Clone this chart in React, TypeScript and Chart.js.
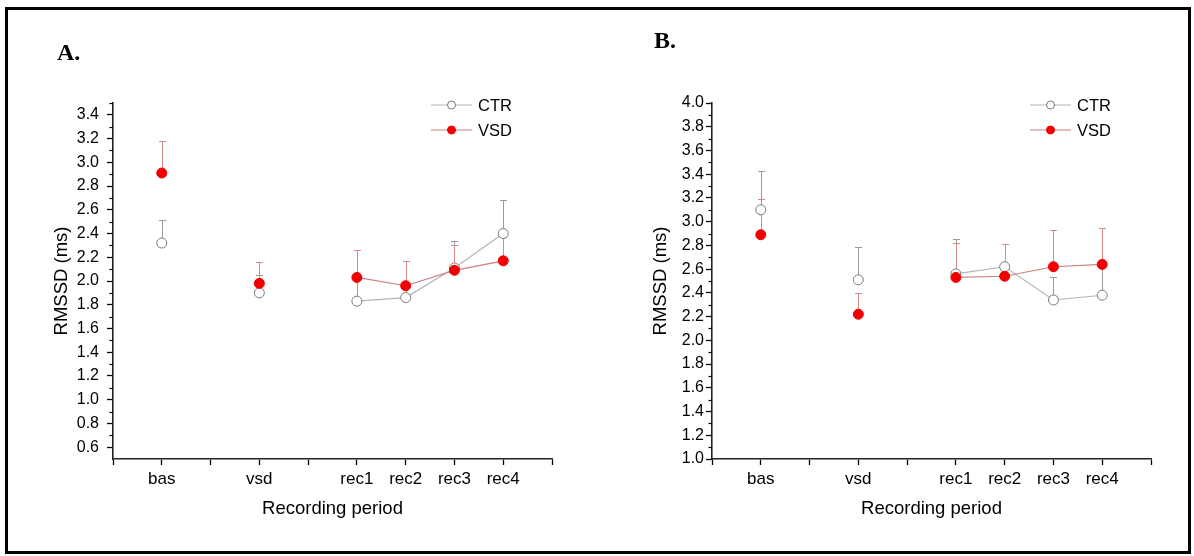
import React, { useEffect, useRef } from 'react';
import { Chart, registerables } from 'chart.js';

Chart.register(...registerables);

// ---------- data ----------
const categories = ['bas', 'vsd', 'rec1', 'rec2', 'rec3', 'rec4'];
const categoryPositions = [1, 3, 5, 6, 7, 8];
const xTickValues = [0, 1, 2, 3, 4, 5, 6, 7, 8, 9];

const seriesNames = ['CTR', 'VSD'];

const aCtrMean = [2.32, 1.9, 1.83, 1.86, 2.11, 2.4];
const aCtrErr = [0.19, 0.15, 0.19, 0.1, 0.23, 0.28];
const aVsdMean = [2.91, 1.98, 2.03, 1.96, 2.09, 2.17];
const aVsdErr = [0.27, 0.18, 0.23, 0.21, 0.21, 0.2];
const aYTickLabels = ['0.6', '0.8', '1.0', '1.2', '1.4', '1.6', '1.8', '2.0', '2.2', '2.4', '2.6', '2.8', '3.0', '3.2', '3.4'];

const bCtrMean = [3.1, 2.51, 2.56, 2.62, 2.34, 2.38];
const bCtrErr = [0.33, 0.28, 0.29, 0.19, 0.19, 0.24];
const bVsdMean = [2.89, 2.22, 2.53, 2.54, 2.62, 2.64];
const bVsdErr = [0.3, 0.18, 0.29, 0.27, 0.31, 0.31];
const bYTickLabels = ['1.0', '1.2', '1.4', '1.6', '1.8', '2.0', '2.2', '2.4', '2.6', '2.8', '3.0', '3.2', '3.4', '3.6', '3.8', '4.0'];

const yAxisTitle = 'RMSSD (ms)';
const xAxisTitle = 'Recording period';

// ---------- styles ----------
const FONT = "'Liberation Sans', Arial, Helvetica, sans-serif";
const CTR_LINE = '#b4b4b4';
const CTR_POINT = '#7a7a7a';
const CTR_ERR = '#9a9a9a';
const VSD_LINE = '#c98080';
const VSD_POINT = '#f00000';
const VSD_ERR = '#d88a8a';

type PanelProps = {
  ctrMean: number[];
  ctrErr: number[];
  vsdMean: number[];
  vsdErr: number[];
  yTickLabels: string[];
  yMin: number;
  yMax: number;
  left: number;
  width: number;
  tickPadding: number;
};

function makeDecorPlugin(errors: number[][], errColors: string[]) {
  return {
    id: 'decor',
    beforeDatasetsDraw(chart: any) {
      const { ctx } = chart;
      const xs = chart.scales.x;
      const ys = chart.scales.y;
      errors.forEach((errArr, di) => {
        const ds = chart.data.datasets[di];
        ctx.save();
        ctx.strokeStyle = errColors[di];
        ctx.lineWidth = 1;
        ds.data.forEach((pt: any, i: number) => {
          const px = Math.round(xs.getPixelForValue(pt.x)) + 0.5;
          const py0 = ys.getPixelForValue(pt.y);
          const py1 = Math.round(ys.getPixelForValue(pt.y + errArr[i])) + 0.5;
          ctx.beginPath();
          ctx.moveTo(px, py0);
          ctx.lineTo(px, py1);
          ctx.moveTo(px - 3.5, py1);
          ctx.lineTo(px + 3.5, py1);
          ctx.stroke();
        });
        ctx.restore();
      });
    },
    afterDraw(chart: any) {
      const { ctx, chartArea } = chart;
      const ys = chart.scales.y;
      // minor ticks on y axis
      ctx.save();
      ctx.strokeStyle = '#000';
      ctx.lineWidth = 1.2;
      const majors = ys.ticks.map((t: any) => t.value);
      const minors: number[] = [];
      for (let i = 0; i < majors.length - 1; i++) minors.push((majors[i] + majors[i + 1]) / 2);
      const step = majors[1] - majors[0];
      if (majors[majors.length - 1] + step / 2 <= ys.max + 1e-9) minors.push(majors[majors.length - 1] + step / 2);
      if (majors[0] - step / 2 > ys.min + 1e-9) minors.push(majors[0] - step / 2);
      minors.forEach((v) => {
        const py = Math.round(ys.getPixelForValue(v)) + 0.5;
        ctx.beginPath();
        ctx.moveTo(chartArea.left, py);
        ctx.lineTo(chartArea.left - 3.5, py);
        ctx.stroke();
      });
      ctx.restore();

      // legend
      const x0 = chartArea.left + 318;
      const entries = [
        { y: chartArea.top + 2, line: CTR_LINE, fill: '#ffffff', stroke: CTR_POINT },
        { y: chartArea.top + 27, line: VSD_LINE, fill: VSD_POINT, stroke: VSD_POINT },
      ];
      entries.forEach((e, i) => {
        ctx.save();
        ctx.strokeStyle = e.line;
        ctx.lineWidth = 1.2;
        ctx.beginPath();
        ctx.moveTo(x0, e.y);
        ctx.lineTo(x0 + 41, e.y);
        ctx.stroke();
        ctx.beginPath();
        ctx.arc(x0 + 20.5, e.y, 4, 0, Math.PI * 2);
        ctx.fillStyle = e.fill;
        ctx.fill();
        ctx.strokeStyle = e.stroke;
        ctx.lineWidth = 1;
        ctx.stroke();
        ctx.fillStyle = '#000';
        ctx.font = `16.5px ${FONT}`;
        ctx.textBaseline = 'middle';
        ctx.textAlign = 'left';
        ctx.fillText(seriesNames[i], x0 + 47, e.y + 1);
        ctx.restore();
      });
    },
  };
}

function Panel(props: PanelProps) {
  const ref = useRef<HTMLCanvasElement | null>(null);
  useEffect(() => {
    if (!ref.current) return;
    const yTickValues = props.yTickLabels.map(Number);
    const ctrData = categoryPositions.map((x, i) => ({ x, y: props.ctrMean[i] }));
    const vsdData = categoryPositions.map((x, i) => ({ x, y: props.vsdMean[i] }));
    const chart = new Chart(ref.current, {
      type: 'line',
      data: {
        datasets: [
          {
            label: seriesNames[0],
            data: ctrData,
            order: 1,
            borderColor: CTR_LINE,
            borderWidth: 1.2,
            pointRadius: 5,
            pointBackgroundColor: '#ffffff',
            pointBorderColor: CTR_POINT,
            pointBorderWidth: 1,
            tension: 0,
            fill: false,
            segment: {
              borderColor: (c: any) => (c.p0DataIndex >= 2 ? CTR_LINE : 'rgba(0,0,0,0)'),
            },
          },
          {
            label: seriesNames[1],
            data: vsdData,
            order: 0,
            borderColor: VSD_LINE,
            borderWidth: 1.2,
            pointRadius: 5,
            pointBackgroundColor: VSD_POINT,
            pointBorderColor: VSD_POINT,
            pointBorderWidth: 1,
            tension: 0,
            fill: false,
            segment: {
              borderColor: (c: any) => (c.p0DataIndex >= 2 ? VSD_LINE : 'rgba(0,0,0,0)'),
            },
          },
        ],
      },
      options: {
        animation: false,
        responsive: false,
        events: [],
        layout: { padding: { left: 0, top: 103, right: props.width - 552, bottom: 0 } },
        plugins: {
          legend: { display: false },
          tooltip: { enabled: false },
          title: { display: false },
        },
        scales: {
          x: {
            type: 'linear',
            min: 0,
            max: 9,
            afterBuildTicks: (s: any) => {
              s.ticks = xTickValues.map((v) => ({ value: v }));
            },
            afterFit: (s: any) => {
              s.height = 97;
            },
            ticks: {
              autoSkip: false,
              maxRotation: 0,
              minRotation: 0,
              padding: 4,
              color: '#000',
              font: { family: FONT, size: 17 },
              callback: (v: any) => {
                const i = categoryPositions.indexOf(Number(v));
                return i >= 0 ? categories[i] : '';
              },
            },
            grid: { drawOnChartArea: false, drawTicks: true, tickLength: 6, tickColor: '#000', tickWidth: 1.3 },
            border: { display: true, color: '#222', width: 1.6 },
            title: {
              display: true,
              text: xAxisTitle,
              color: '#000',
              font: { family: FONT, size: 18.5 },
              padding: { top: 0, bottom: 36 },
            },
          },
          y: {
            type: 'linear',
            min: props.yMin,
            max: props.yMax,
            afterBuildTicks: (s: any) => {
              s.ticks = yTickValues.map((v) => ({ value: v }));
            },
            afterFit: (s: any) => {
              s.width = 113;
            },
            ticks: {
              autoSkip: false,
              padding: props.tickPadding,
              color: '#000',
              font: { family: FONT, size: 16 },
              callback: (_v: any, idx: number) => props.yTickLabels[idx],
            },
            grid: { drawOnChartArea: false, drawTicks: true, tickLength: 6, tickColor: '#000', tickWidth: 1.3 },
            border: { display: true, color: '#222', width: 1.6 },
            title: {
              display: true,
              text: yAxisTitle,
              color: '#000',
              font: { family: FONT, size: 18.5 },
              padding: { top: 51, bottom: 0 },
            },
          },
        },
      } as any,
      plugins: [makeDecorPlugin([props.ctrErr, props.vsdErr], [CTR_ERR, VSD_ERR])],
    });
    return () => chart.destroy();
  }, []);
  return (
    <canvas
      ref={ref}
      width={props.width}
      height={556}
      style={{ position: 'absolute', left: props.left, top: 0, width: props.width, height: 556 }}
    />
  );
}

export default function App() {
  const labelStyle: React.CSSProperties = {
    position: 'absolute',
    fontFamily: "'Liberation Serif', 'Times New Roman', serif",
    fontWeight: 'bold',
    fontSize: 24,
    lineHeight: '24px',
    color: '#000',
    margin: 0,
  };
  return (
    <div
      style={{
        position: 'fixed',
        left: 0,
        top: 0,
        width: 1194,
        height: 556,
        background: '#ffffff',
        overflow: 'hidden',
      }}
    >
      <Panel
        ctrMean={aCtrMean}
        ctrErr={aCtrErr}
        vsdMean={aVsdMean}
        vsdErr={aVsdErr}
        yTickLabels={aYTickLabels}
        yMin={0.5}
        yMax={3.5}
        left={0}
        width={597}
        tickPadding={8}
      />
      <Panel
        ctrMean={bCtrMean}
        ctrErr={bCtrErr}
        vsdMean={bVsdMean}
        vsdErr={bVsdErr}
        yTickLabels={bYTickLabels}
        yMin={1.0}
        yMax={4.0}
        left={599}
        width={595}
        tickPadding={2}
      />
      <div style={{ ...labelStyle, left: 57, top: 40 }}>A.</div>
      <div style={{ ...labelStyle, left: 654, top: 28 }}>B.</div>
      <div
        style={{
          position: 'absolute',
          left: 5,
          top: 7,
          width: 1186,
          height: 547,
          border: '3px solid #000',
          boxSizing: 'border-box',
          pointerEvents: 'none',
        }}
      />
    </div>
  );
}
